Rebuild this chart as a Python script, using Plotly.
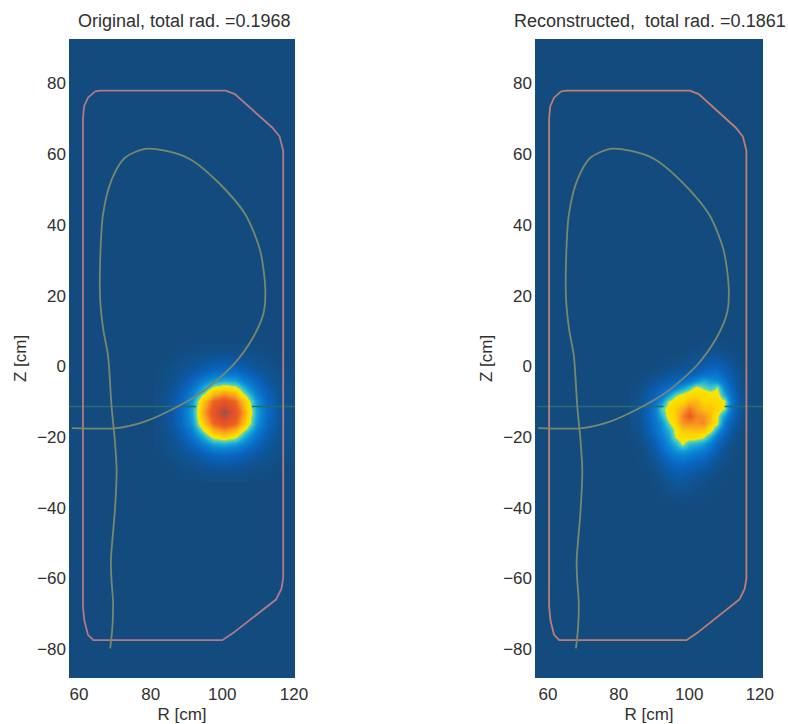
import plotly.graph_objects as go

FONT = "Liberation Sans"
TEXT = "#303030"
BG = "#134b7e"

titles = ["Original, total rad. =0.1968", "Reconstructed,  total rad. =0.1861"]
x_ticks = [60, 80, 100, 120]
z_ticks = [80, 60, 40, 20, 0, -20, -40, -60, -80]
z_labels = ["80", "60", "40", "20", "0", "\u221220", "\u221240", "\u221260", "\u221280"]

# vessel outline
limiter_r = [64.5, 66, 101, 103.5, 114, 116, 117, 117, 116.5, 115, 103, 100, 64, 62.5, 61.5, 61.1, 61.1, 61.4, 62.5, 64.5]
limiter_z = [77.8, 78, 78, 77, 67.5, 65, 61, -60, -63, -66, -75.5, -77.5, -77.5, -76, -72, -68, 70, 73.5, 76, 77.8]

# plasma boundary
sep_r = [58, 70.5, 77.9, 85.4, 93.8, 97.4, 103, 108.5, 111.5, 112, 110.5, 106.4, 99.4, 91, 84, 78.4, 72.8, 69.2, 66.7, 65.9, 65.9,
         66.8, 68.1, 69.1, 70, 70.5, 70, 68.9, 69.1, 69.5, 69.3, 68.7]
sep_z = [-17.5, -17.5, -15.8, -12.5, -7.7, -4.9, 0.3, 8, 15, 22, 33, 43, 51.5, 58.6, 61, 61.5, 59, 53, 43, 30, 19,
         10.2, 3, -11.6, -21, -29.6, -41, -55, -61, -66.6, -74, -79.8]

# horizontal chord, not visible across the bright core
chord_r_orig = [57, 92.7, None, 108.3, 121.5]
chord_r_rec = [57, 92.7, None, 110.0, 121.5]
chord_z = [-11.4, -11.4, None, -11.4, -11.4]

# original emissivity (level 0-100)
orig_r = [82.5, 85.5, 88.5, 91.5, 94.5, 97.5, 100.5, 103.5, 106.5, 109.5, 112.5, 115.5, 118.5]
orig_z = [5, 2, -1, -4, -7, -10, -13, -16, -19, -22, -25, -28, -31]
orig_v = [
    [0, 0, 1, 2, 3, 3, 3, 3, 3, 2, 1, 0, 0],
    [0, 1, 4, 5, 7, 9, 10, 9, 7, 5, 4, 1, 0],
    [1, 4, 7, 10, 15, 19, 21, 20, 15, 10, 7, 4, 1],
    [2, 5, 10, 18, 27, 35, 38, 36, 27, 18, 10, 5, 2],
    [3, 7, 15, 27, 42, 61, 67, 62, 43, 27, 15, 7, 3],
    [3, 9, 19, 35, 62, 80, 86, 79, 61, 35, 19, 9, 3],
    [3, 10, 21, 38, 67, 86, 100, 86, 67, 38, 21, 10, 3],
    [3, 9, 20, 35, 61, 79, 86, 80, 62, 35, 19, 9, 3],
    [3, 7, 15, 27, 43, 62, 67, 61, 42, 27, 15, 7, 3],
    [2, 5, 10, 18, 27, 36, 38, 35, 27, 18, 10, 5, 2],
    [1, 4, 7, 10, 15, 20, 21, 19, 15, 10, 7, 4, 1],
    [0, 1, 4, 5, 7, 9, 10, 9, 7, 5, 4, 1, 0],
    [0, 0, 1, 2, 3, 3, 3, 3, 3, 2, 1, 0, 0],
]

# reconstructed emissivity (level 0-100)
rec_r = [84, 86, 88, 90, 92, 94, 96, 98, 100, 102, 104, 106, 108, 110, 112, 114, 116, 118]
rec_z = [6, 4, 2, 0, -2, -4, -6, -8, -10, -12, -14, -16, -18, -20, -22, -24, -26, -28, -30, -32, -34, -36, -38, -40]
rec_v = [
    [0, 0, 0, 0, 0, 0, 0, 0, 0, 1, 2, 3, 3, 2, 1, 0, 0, 0],
    [0, 0, 0, 0, 0, 0, 0, 1, 2, 3, 5, 6, 6, 5, 3, 1, 0, 0],
    [0, 0, 0, 0, 1, 1, 2, 3, 4, 6, 9, 11, 11, 9, 6, 2, 0, 0],
    [0, 0, 0, 1, 2, 4, 5, 6, 8, 11, 14, 17, 17, 13, 9, 4, 1, 0],
    [0, 1, 2, 4, 6, 8, 10, 12, 14, 18, 22, 24, 24, 18, 12, 6, 2, 0],
    [1, 2, 5, 8, 11, 14, 17, 20, 25, 32, 38, 34, 32, 24, 15, 7, 2, 0],
    [2, 4, 8, 12, 17, 22, 28, 36, 44, 54, 48, 44, 50, 30, 18, 8, 3, 0],
    [3, 6, 11, 17, 24, 34, 47, 53, 58, 59, 57, 55, 55, 38, 22, 10, 3, 0],
    [4, 8, 14, 22, 33, 51, 57, 60, 66, 66, 60, 60, 58, 53, 26, 12, 4, 0],
    [5, 9, 16, 26, 46, 54, 62, 68, 76, 70, 64, 64, 60, 50, 24, 11, 3, 0],
    [5, 9, 16, 26, 40, 55, 62, 74, 82, 74, 72, 66, 52, 36, 20, 9, 3, 0],
    [4, 8, 15, 24, 33, 48, 60, 72, 74, 72, 74, 64, 53, 28, 15, 7, 2, 0],
    [3, 7, 13, 22, 31, 40, 53, 64, 64, 66, 64, 56, 38, 22, 11, 5, 1, 0],
    [2, 5, 11, 18, 27, 36, 51, 57, 58, 57, 53, 40, 26, 15, 8, 3, 1, 0],
    [1, 4, 8, 14, 23, 32, 40, 52, 42, 40, 36, 28, 18, 11, 5, 2, 0, 0],
    [1, 2, 6, 11, 19, 26, 32, 34, 32, 29, 26, 20, 13, 7, 3, 1, 0, 0],
    [0, 1, 4, 8, 14, 20, 24, 26, 24, 21, 19, 14, 9, 5, 2, 0, 0, 0],
    [0, 1, 2, 5, 10, 15, 18, 19, 17, 15, 13, 9, 6, 3, 1, 0, 0, 0],
    [0, 0, 1, 3, 7, 11, 13, 14, 12, 10, 8, 6, 3, 2, 0, 0, 0, 0],
    [0, 0, 0, 2, 5, 8, 10, 10, 9, 7, 5, 3, 2, 1, 0, 0, 0, 0],
    [0, 0, 0, 1, 3, 5, 7, 7, 6, 4, 3, 2, 1, 0, 0, 0, 0, 0],
    [0, 0, 0, 0, 2, 3, 4, 4, 3, 2, 2, 1, 0, 0, 0, 0, 0, 0],
    [0, 0, 0, 0, 1, 1, 2, 2, 2, 1, 1, 0, 0, 0, 0, 0, 0, 0],
    [0, 0, 0, 0, 0, 0, 0, 0, 0, 0, 0, 0, 0, 0, 0, 0, 0, 0],
]

scale = [
    [0.00, BG], [0.05, "#11518c"], [0.12, "#0b5ba8"], [0.20, "#0a68c4"], [0.30, "#0a84d4"],
    [0.38, "#18a8d8"], [0.44, "#40c8c8"], [0.495, "#70d8a0"], [0.50, "#f8e800"], [0.60, "#fcd800"],
    [0.70, "#fba020"], [0.80, "#ee6020"], [0.92, "#d84a30"], [1.00, "#8a5a48"],
]

W, H = 788, 724
panels = [
    dict(xa="x", ya="y", px=(69, 295), rng=(57.2, 120.3), r=orig_r, z=orig_z, v=orig_v, off=0.0,
         lim="#b07a88", title_x=184, chord=chord_r_orig),
    dict(xa="x2", ya="y2", px=(535, 763), rng=(56.3, 120.9), r=rec_r, z=rec_z, v=rec_v, off=-0.8,
         lim="#bf7e70", title_x=650, chord=chord_r_rec),
]
Y_RANGE = [-88.2, 92.6]
PY = (39, 678)

fig = go.Figure()
for i, p in enumerate(panels):
    fig.add_trace(go.Heatmap(x=p["r"], y=p["z"], z=p["v"], zmin=0, zmax=100, zsmooth="best",
                             colorscale=scale, showscale=False, xaxis=p["xa"], yaxis=p["ya"], hoverinfo="skip"))
    fig.add_trace(go.Scatter(x=p["chord"], y=chord_z, mode="lines", line=dict(color="#246e70", width=1.4),
                             xaxis=p["xa"], yaxis=p["ya"], showlegend=False))
    fig.add_trace(go.Scatter(x=[v + p["off"] for v in limiter_r], y=limiter_z, mode="lines",
                             line=dict(color=p["lim"], width=1.8), xaxis=p["xa"], yaxis=p["ya"], showlegend=False))
    fig.add_trace(go.Scatter(x=[v + p["off"] for v in sep_r], y=sep_z, mode="lines",
                             line=dict(color="#79876f", width=1.8, shape="spline", smoothing=0.8),
                             xaxis=p["xa"], yaxis=p["ya"], showlegend=False))

def xaxis(p):
    return dict(domain=[p["px"][0] / W, p["px"][1] / W], range=list(p["rng"]), tickvals=x_ticks,
                ticks="", showgrid=False, zeroline=False, showline=False, anchor=p["ya"], automargin=False,
                ticklabelstandoff=4,
                tickfont=dict(family=FONT, size=17, color=TEXT),
                title=dict(text="R [cm]", font=dict(family=FONT, size=17, color=TEXT), standoff=5))

def yaxis(p):
    return dict(domain=[1 - PY[1] / H, 1 - PY[0] / H], range=Y_RANGE, tickvals=z_ticks, ticktext=z_labels,
                ticks="", showgrid=False, zeroline=False, showline=False, anchor=p["xa"], automargin=False,
                ticklabelstandoff=2,
                tickfont=dict(family=FONT, size=17, color=TEXT),
                title=dict(text="Z [cm]", font=dict(family=FONT, size=17, color=TEXT), standoff=6))

fig.update_layout(
    width=W, height=H, autosize=False, margin=dict(l=0, r=0, t=0, b=0, autoexpand=False), paper_bgcolor="white", plot_bgcolor=BG,
    showlegend=False, xaxis=xaxis(panels[0]), yaxis=yaxis(panels[0]), xaxis2=xaxis(panels[1]), yaxis2=yaxis(panels[1]),
    annotations=[
        dict(text=titles[i], xref="paper", yref="paper", x=panels[i]["title_x"] / W, y=1 - 21 / H, xanchor="center",
             yanchor="middle", showarrow=False, font=dict(family=FONT, size=18, color=TEXT))
        for i in range(2)
    ],
)
fig.write_html("out.html", config={"displayModeBar": False, "responsive": False},
               default_width="788px", default_height="724px",
               post_script="document.body.style.margin='0';")
